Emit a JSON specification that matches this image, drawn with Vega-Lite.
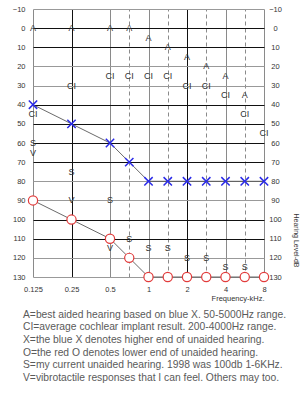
{
  "$schema": "https://vega.github.io/schema/vega-lite/v6.json",
  "width": 231,
  "height": 268,
  "autosize": {"type": "none"},
  "padding": {"left": 33, "top": 9, "right": 42, "bottom": 123},
  "background": "white",
  "config": {"view": {"stroke": null}, "font": "Liberation Sans"},
  "title": {
    "text": [
      "A=best aided hearing based on blue X. 50-5000Hz range.",
      "CI=average cochlear implant result. 200-4000Hz range.",
      "X=the blue X denotes higher end of unaided hearing.",
      "O=the red O denotes lower end of unaided hearing.",
      "S=my current unaided hearing. 1998 was 100db 1-6KHz.",
      "V=vibrotactile responses that I can feel. Others may too."
    ],
    "orient": "bottom",
    "anchor": "start",
    "frame": "group",
    "dx": -10,
    "offset": 8,
    "baseline": "top",
    "fontSize": 10.3,
    "lineHeight": 12.7,
    "fontWeight": "normal",
    "color": "#5a5a5a",
    "font": "Liberation Sans"
  },
  "data": {
    "values": [
      {"freq": 0.125, "db": 40, "sym": "X"},
      {"freq": 0.25, "db": 50, "sym": "X"},
      {"freq": 0.5, "db": 60, "sym": "X"},
      {"freq": 0.75, "db": 70, "sym": "X"},
      {"freq": 1, "db": 80, "sym": "X"},
      {"freq": 1.5, "db": 80, "sym": "X"},
      {"freq": 2, "db": 80, "sym": "X"},
      {"freq": 3, "db": 80, "sym": "X"},
      {"freq": 4, "db": 80, "sym": "X"},
      {"freq": 6, "db": 80, "sym": "X"},
      {"freq": 8, "db": 80, "sym": "X"},
      {"freq": 0.125, "db": 90, "sym": "O"},
      {"freq": 0.25, "db": 100, "sym": "O"},
      {"freq": 0.5, "db": 110, "sym": "O"},
      {"freq": 0.75, "db": 120, "sym": "O"},
      {"freq": 1, "db": 130, "sym": "O"},
      {"freq": 1.5, "db": 130, "sym": "O"},
      {"freq": 2, "db": 130, "sym": "O"},
      {"freq": 3, "db": 130, "sym": "O"},
      {"freq": 4, "db": 130, "sym": "O"},
      {"freq": 6, "db": 130, "sym": "O"},
      {"freq": 8, "db": 130, "sym": "O"},
      {"freq": 0.125, "db": 0, "sym": "A"},
      {"freq": 0.25, "db": 0, "sym": "A"},
      {"freq": 0.5, "db": 0, "sym": "A"},
      {"freq": 0.75, "db": 0, "sym": "A"},
      {"freq": 1, "db": 5, "sym": "A"},
      {"freq": 1.5, "db": 10, "sym": "A"},
      {"freq": 2, "db": 15, "sym": "A"},
      {"freq": 3, "db": 20, "sym": "A"},
      {"freq": 4, "db": 25, "sym": "A"},
      {"freq": 6, "db": 35, "sym": "A"},
      {"freq": 0.125, "db": 45, "sym": "CI"},
      {"freq": 0.25, "db": 30, "sym": "CI"},
      {"freq": 0.5, "db": 25, "sym": "CI"},
      {"freq": 0.75, "db": 25, "sym": "CI"},
      {"freq": 1, "db": 25, "sym": "CI"},
      {"freq": 1.5, "db": 25, "sym": "CI"},
      {"freq": 2, "db": 30, "sym": "CI"},
      {"freq": 3, "db": 30, "sym": "CI"},
      {"freq": 4, "db": 35, "sym": "CI"},
      {"freq": 6, "db": 45, "sym": "CI"},
      {"freq": 8, "db": 55, "sym": "CI"},
      {"freq": 0.125, "db": 60, "sym": "S"},
      {"freq": 0.25, "db": 75, "sym": "S"},
      {"freq": 0.5, "db": 90, "sym": "S"},
      {"freq": 0.75, "db": 110, "sym": "S"},
      {"freq": 1, "db": 115, "sym": "S"},
      {"freq": 1.5, "db": 115, "sym": "S"},
      {"freq": 2, "db": 120, "sym": "S"},
      {"freq": 3, "db": 120, "sym": "S"},
      {"freq": 4, "db": 125, "sym": "S"},
      {"freq": 6, "db": 125, "sym": "S"},
      {"freq": 0.125, "db": 65, "sym": "V"},
      {"freq": 0.25, "db": 90, "sym": "V"},
      {"freq": 0.5, "db": 115, "sym": "V"}
    ]
  },
  "encoding": {
    "x": {
      "field": "freq",
      "type": "ordinal",
      "sort": null,
      "scale": {
        "type": "point",
        "domain": [0.125, 0.177, 0.25, 0.354, 0.5, 0.75, 1, 1.5, 2, 3, 4, 6, 8],
        "padding": 0
      },
      "axis": {
        "values": [0.125, 0.25, 0.5, 0.75, 1, 1.5, 2, 3, 4, 6, 8],
        "labelExpr": "(datum.value == 0.75 || datum.value == 1.5 || datum.value == 3 || datum.value == 6) ? '' : datum.label",
        "labelAngle": 0,
        "labelFontSize": 7.5,
        "labelColor": "#333333",
        "labelPadding": 8,
        "ticks": false,
        "domain": false,
        "grid": true,
        "gridWidth": 1,
        "gridColor": {
          "condition": {"test": "datum.value == 0.25 || datum.value == 2", "value": "#111111"},
          "value": "#8a8a8a"
        },
        "gridDash": {
          "condition": {"test": "datum.value == 0.75 || datum.value == 1.5 || datum.value == 3 || datum.value == 6", "value": [4, 3]},
          "value": []
        },
        "title": "Frequency-kHz.",
        "titleAnchor": "end",
        "titleFontSize": 7.5,
        "titleFontWeight": "normal",
        "titleColor": "#333333",
        "titleBaseline": "middle",
        "titleY": 21
      }
    },
    "y": {
      "field": "db",
      "type": "quantitative",
      "scale": {"domain": [-10, 130], "reverse": true, "nice": false, "zero": false},
      "axis": null
    }
  },
  "layer": [
    {
      "transform": [{"filter": "datum.sym === 'X' || datum.sym === 'O'"}],
      "mark": {"type": "line", "color": "#444444", "strokeWidth": 0.8},
      "encoding": {
        "detail": {"field": "sym", "type": "nominal"},
        "y": {
          "field": "db",
          "type": "quantitative",
          "scale": {"domain": [-10, 130], "reverse": true, "nice": false, "zero": false},
          "axis": {
            "orient": "left",
            "values": [-10, 0, 10, 20, 30, 40, 50, 60, 70, 80, 90, 100, 110, 120, 130],
            "labelFontSize": 7.5,
            "labelColor": "#333333",
            "labelPadding": 8,
            "ticks": false,
            "domain": false,
            "grid": true,
            "gridWidth": 1,
            "gridColor": {
              "condition": {"test": "datum.value == 0 || datum.value == 10 || (datum.value >= 40 && datum.value <= 70) || datum.value == 100 || datum.value == 110", "value": "#111111"},
              "value": "#999999"
            },
            "title": null
          }
        }
      }
    },
    {
      "transform": [{"filter": "datum.sym === 'X'"}],
      "mark": {
        "type": "point",
        "shape": "M-1,-1L1,1M-1,1L1,-1",
        "filled": false,
        "stroke": "#2a2ae8",
        "strokeWidth": 1.5,
        "size": 70,
        "opacity": 1
      }
    },
    {
      "transform": [{"filter": "datum.sym === 'O'"}],
      "mark": {
        "type": "point",
        "shape": "circle",
        "filled": false,
        "fill": "white",
        "fillOpacity": 1,
        "stroke": "#e23b3b",
        "strokeWidth": 1.2,
        "size": 85,
        "opacity": 1
      }
    },
    {
      "transform": [{"filter": "datum.sym === 'A' || datum.sym === 'CI' || datum.sym === 'S' || datum.sym === 'V'"}],
      "mark": {
        "type": "text",
        "fontSize": 9,
        "color": "#333333",
        "align": "center",
        "baseline": "middle",
        "font": "Liberation Sans"
      },
      "encoding": {
        "text": {"field": "sym", "type": "nominal"},
        "y": {
          "field": "db",
          "type": "quantitative",
          "scale": {"domain": [-10, 130], "reverse": true, "nice": false, "zero": false},
          "axis": {
            "orient": "right",
            "values": [-10, 0, 10, 20, 30, 40, 50, 60, 70, 80, 90, 100, 110, 120, 130],
            "labelFontSize": 7.5,
            "labelColor": "#333333",
            "labelPadding": 11,
            "labelAlign": "center",
            "ticks": false,
            "domain": false,
            "grid": false,
            "title": "Hearing Level-dB",
            "titleAngle": 90,
            "titleFontSize": 7,
            "titleFontWeight": "normal",
            "titleColor": "#333333",
            "titleBaseline": "middle",
            "titleAlign": "center",
            "titleX": 31,
            "titleY": 231
          }
        }
      }
    }
  ],
  "resolve": {"axis": {"y": "independent"}}
}
